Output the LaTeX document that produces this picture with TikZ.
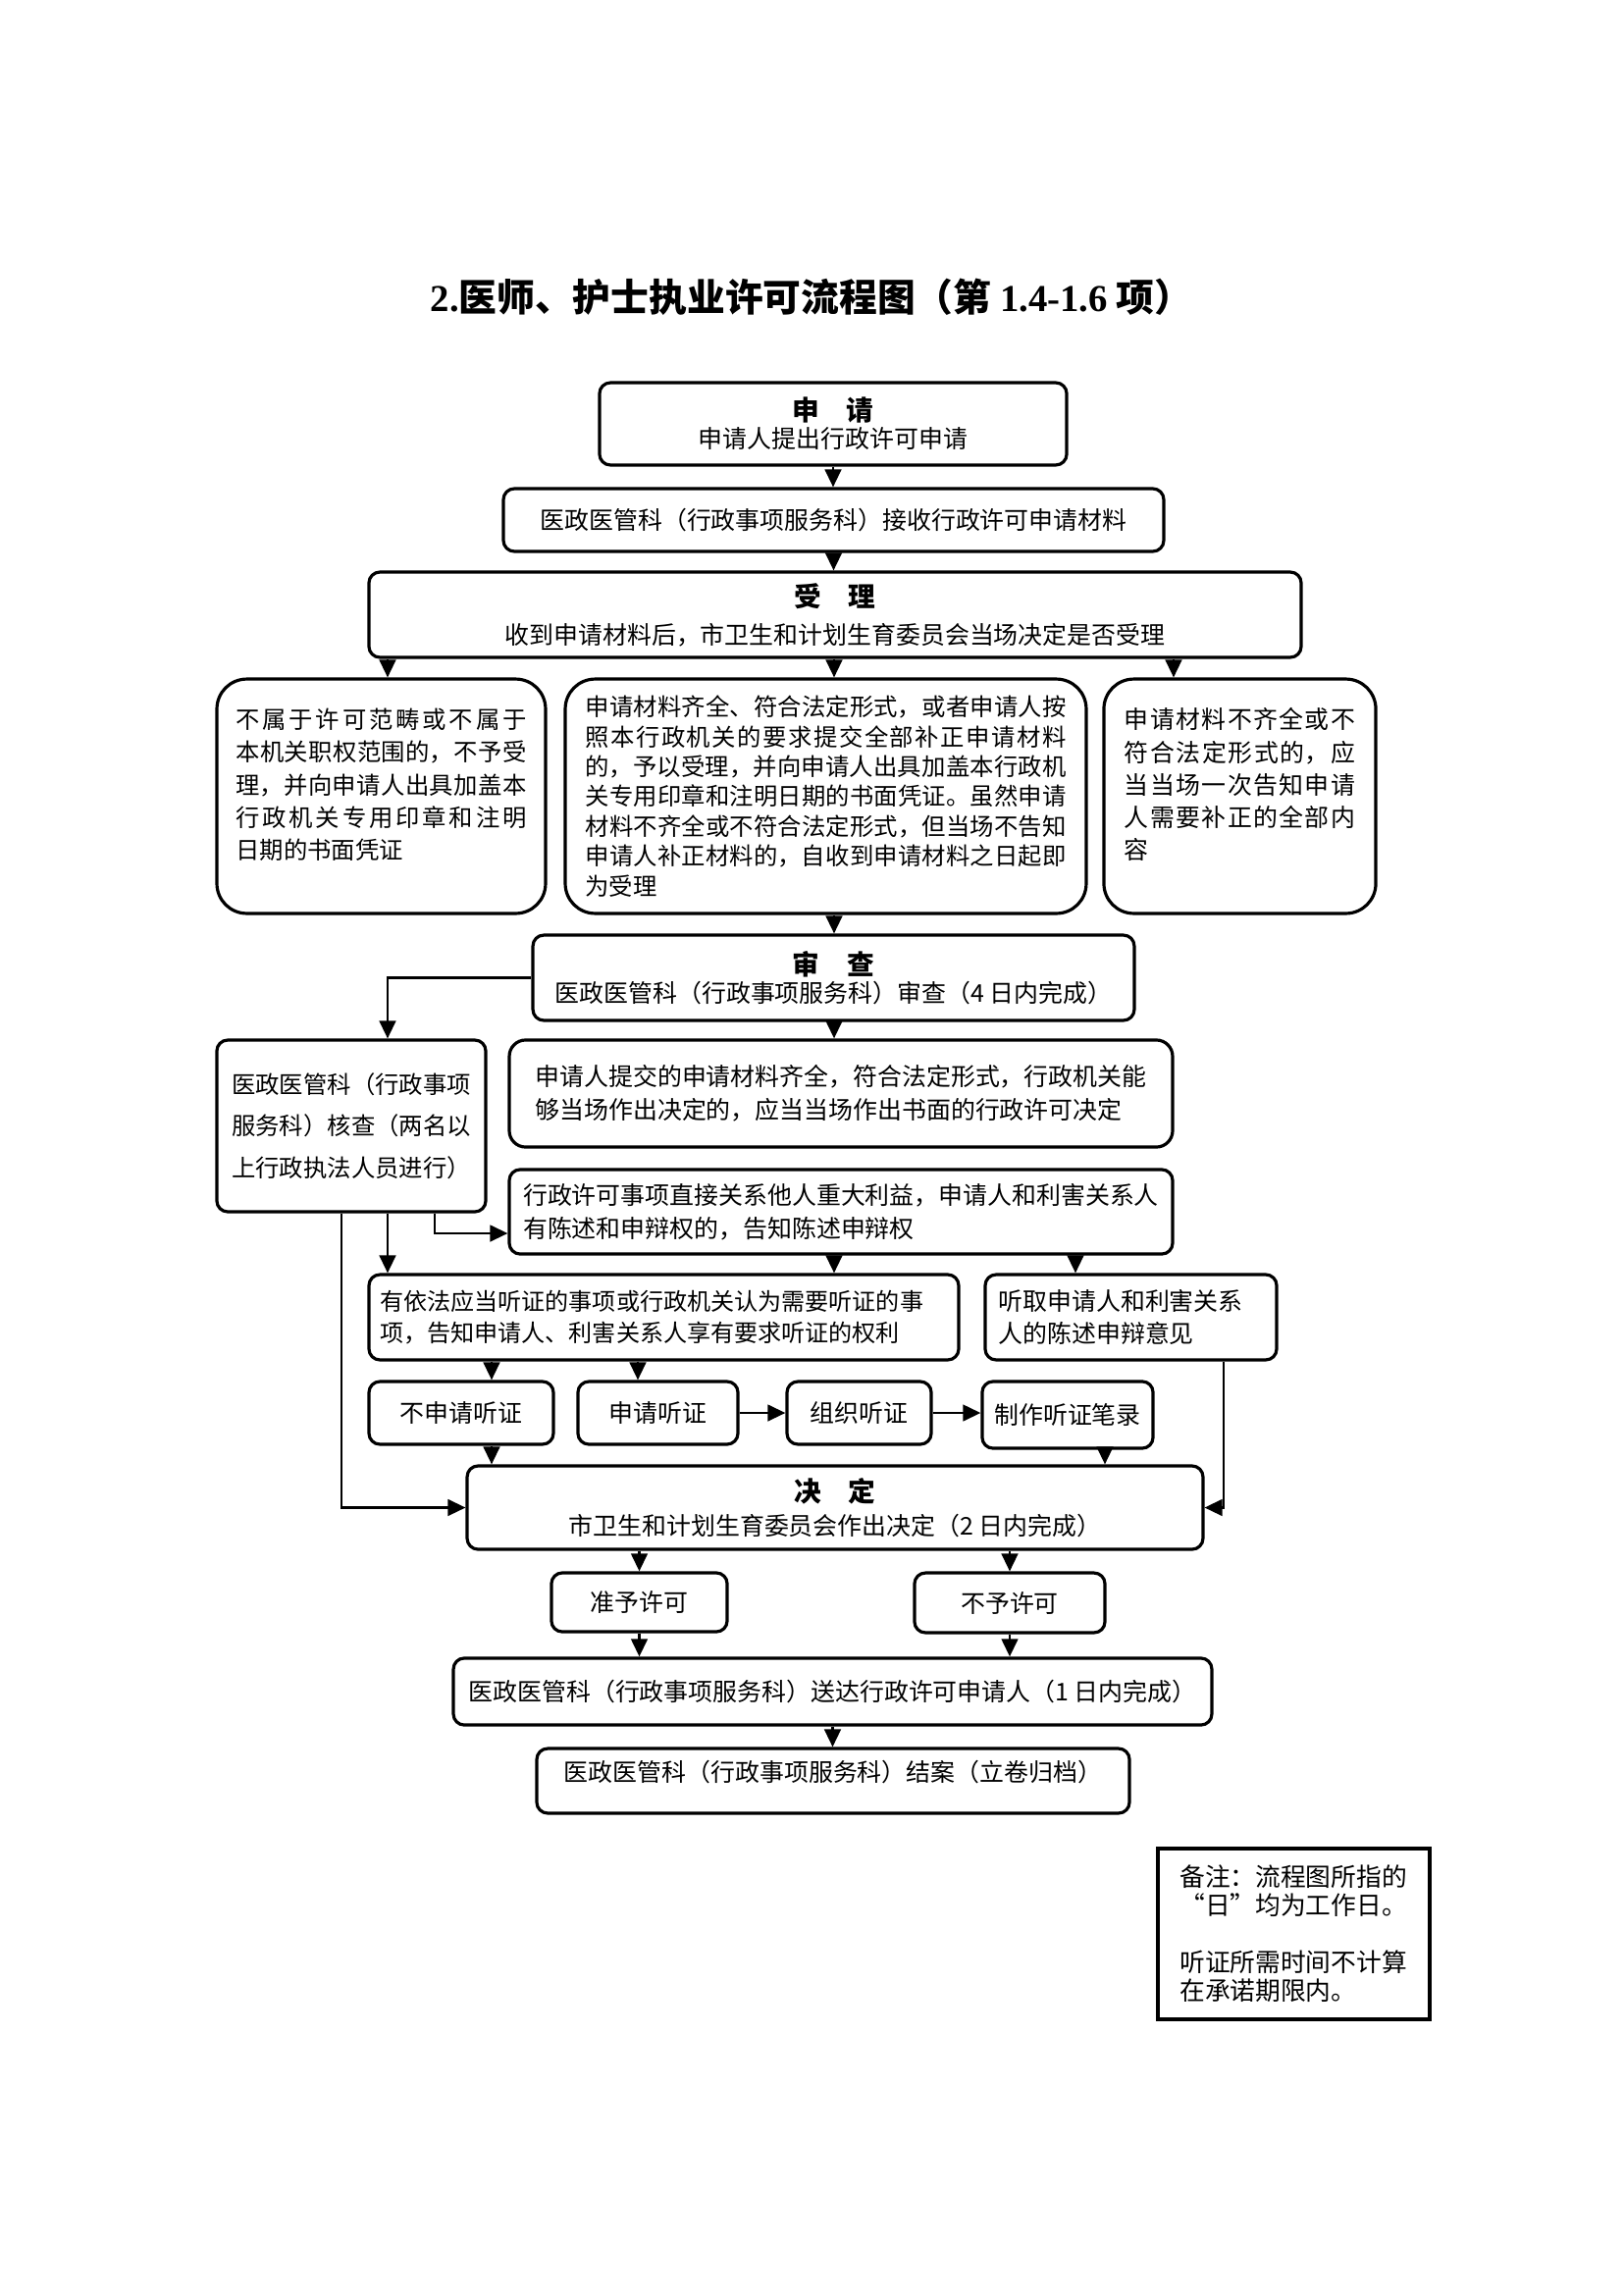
\documentclass[tikz,border=0pt]{standalone}
\usepackage{fontspec}
\newfontfamily\cjk{Noto Sans CJK SC}
\newfontfamily\titleserif{Liberation Serif}
\usetikzlibrary{arrows.meta}
\XeTeXlinebreaklocale "zh"
\XeTeXlinebreakskip=0pt plus 2pt
\newcommand\flowsize[2]{\cjk\fontsize{#1}{#2}\selectfont}
\newcommand\headtxt{\bfseries\fontsize{10pt}{10pt}\selectfont}

\begin{document}
\begin{tikzpicture}[x=0.36125pt, y=-0.36125pt,
  flow/.style={draw, line width=1.15pt, rounded corners=4pt, inner sep=0pt, align=center, font=\flowsize{9pt}{12pt}},
  big/.style={flow, rounded corners=11pt, align=justify},
  arr/.style={line width=0.9pt, -{Triangle[length=6.5pt,width=6pt]}}]

\useasboundingbox (0,0) rectangle (1654,2339);

\node[font=\flowsize{14pt}{16pt}\bfseries] (title) at (827,303)
  {{\titleserif 2.}医师、护士执业许可流程图（第 {\titleserif 1.4-1.6} 项）};

\node[flow, minimum width=172pt, minimum height=30.3pt, font=\flowsize{9pt}{10.1pt}] (shenqing) at (849,432)
  {{\headtxt 申\hspace{1em}请}\\申请人提出行政许可申请};
\node[flow, minimum width=243.1pt, minimum height=23.1pt] (jieshou) at (849.5,530)
  {医政医管科（行政事项服务科）接收行政许可申请材料};
\node[flow, minimum width=343.2pt, minimum height=31.4pt, font=\flowsize{9pt}{13.7pt}] (shouli) at (851,626.5)
  {{\headtxt 受\hspace{1em}理}\\收到申请材料后，市卫生和计划生育委员会当场决定是否受理};

\node[big, minimum width=121pt, minimum height=86.3pt, text width=107pt, text depth=57.2pt, font=\flowsize{8.8pt}{12pt}] (buyu) at (388.5,811.5)
  {不属于许可范畴或不属于\linebreak 本机关职权范围的，不予受\linebreak 理，并向申请人出具加盖本\linebreak 行政机关专用印章和注明\linebreak 日期的书面凭证};
\node[big, minimum width=191.8pt, minimum height=86.3pt, text width=177pt, font=\flowsize{8.8pt}{11pt}] (yushou) at (841.5,811.5)
  {申请材料齐全、符合法定形式，或者申请人按\linebreak 照本行政机关的要求提交全部补正申请材料\linebreak 的，予以受理，并向申请人出具加盖本行政机\linebreak 关专用印章和注明日期的书面凭证。虽然申请\linebreak 材料不齐全或不符合法定形式，但当场不告知\linebreak 申请人补正材料的，自收到申请材料之日起即\linebreak 为受理};
\node[big, minimum width=100.1pt, minimum height=86.3pt, text width=85pt, text depth=57.2pt] (buzheng) at (1263.5,811.5)
  {申请材料不齐全或不\linebreak 符合法定形式的，应\linebreak 当当场一次告知申请\linebreak 人需要补正的全部内\linebreak 容};

\node[flow, minimum width=221.4pt, minimum height=31.4pt, font=\flowsize{9pt}{10.1pt}] (shencha) at (849.5,996.5)
  {{\headtxt 审\hspace{1em}查}\\医政医管科（行政事项服务科）审查（4 日内完成）};
\node[flow, minimum width=99pt, minimum height=63.2pt, font=\flowsize{8.8pt}{15.4pt}] (hecha) at (358,1147.5)
  {医政医管科（行政事项\\服务科）核查（两名以\\上行政执法人员进行）};
\node[flow, rounded corners=6pt, minimum width=244.2pt, minimum height=39.4pt, text width=225pt, align=left, font=\flowsize{9pt}{12.3pt}] (dangchang) at (857,1114.5)
  {申请人提交的申请材料齐全，符合法定形式，行政机关能\\够当场作出决定的，应当当场作出书面的行政许可决定};
\node[flow, minimum width=244.2pt, minimum height=31.1pt, text width=234pt, align=left, font=\flowsize{9pt}{12.3pt}] (chenshu) at (857,1235)
  {行政许可事项直接关系他人重大利益，申请人和利害关系人\\有陈述和申辩权的，告知陈述申辩权};
\node[flow, minimum width=217.1pt, minimum height=31.4pt, text width=209pt, align=left, font=\flowsize{8.7pt}{11.8pt}] (tingzheng) at (676.5,1342.5)
  {有依法应当听证的事项或行政机关认为需要听证的事\\项，告知申请人、利害关系人享有要求听证的权利};
\node[flow, minimum width=107.3pt, minimum height=31.4pt, text width=97.5pt, align=left, font=\flowsize{9pt}{11.8pt}] (tingqu) at (1152.5,1342.5)
  {听取申请人和利害关系\\人的陈述申辩意见};

\node[flow, minimum width=67.9pt, minimum height=23.1pt] (bushen) at (470,1440) {不申请听证};
\node[flow, minimum width=58.9pt, minimum height=23.1pt] (shenqingtz) at (670.5,1440) {申请听证};
\node[flow, minimum width=53.1pt, minimum height=23.1pt] (zuzhi) at (875.5,1440) {组织听证};
\node[flow, minimum width=62.9pt, minimum height=24.6pt] (bilu) at (1088,1442) {制作听证笔录};

\node[flow, minimum width=270.9pt, minimum height=30.7pt, font=\flowsize{9pt}{12.3pt}] (jueding) at (851,1536.5)
  {{\headtxt 决\hspace{1em}定}\\市卫生和计划生育委员会作出决定（2 日内完成）};
\node[flow, minimum width=64.7pt, minimum height=21.7pt] (zhunyu) at (651.5,1633) {准予许可};
\node[flow, minimum width=70.1pt, minimum height=22pt] (buyuxk) at (1029,1633.5) {不予许可};
\node[flow, minimum width=279.2pt, minimum height=24.6pt] (songda) at (848.5,1724)
  {医政医管科（行政事项服务科）送达行政许可申请人（1 日内完成）};
\node[flow, minimum width=218.2pt, text height=12.1pt, text depth=11.7pt] (jiean) at (849,1815)
  {医政医管科（行政事项服务科）结案（立卷归档）};

\node[draw, line width=1.3pt, inner sep=0pt, minimum width=100.1pt, minimum height=62.9pt, text width=84pt, align=left, font=\flowsize{9.3pt}{10.5pt}] (note) at (1318.5,1971)
  {备注：流程图所指的\\“日”均为工作日。\\[10.5pt]听证所需时间不计算\\在承诺期限内。};

\coordinate (xa) at (348,0);
\coordinate (xb) at (395,0);
\coordinate (hc) at (443,1257);
\coordinate (xm) at (850,0);
\coordinate (xd) at (1196,0);
\coordinate (xe) at (1096,0);
\coordinate (xf) at (1247,0);
\coordinate (xg) at (501,0);
\coordinate (xh) at (650,0);
\coordinate (xi) at (1126,0);

\draw[arr] (shenqing.south) -- (shenqing.south |- jieshou.north);
\draw[arr] (jieshou.south) -- (jieshou.south |- shouli.north);
\draw[arr] (xb |- shouli.south) -- (xb |- buyu.north);
\draw[arr] (xm |- shouli.south) -- (xm |- yushou.north);
\draw[arr] (xd |- shouli.south) -- (xd |- buzheng.north);
\draw[arr] (xm |- yushou.south) -- (xm |- shencha.north);
\draw[arr] (shencha.west) -| (xb |- hecha.north);
\draw[arr] (xm |- shencha.south) -- (xm |- dangchang.north);
\draw[arr] (xa |- hecha.south) |- (jueding.west);
\draw[arr] (xb |- hecha.south) -- (xb |- tingzheng.north);
\draw[arr] (hecha.south -| hc) |- (hc -| chenshu.west);
\draw[arr] (xm |- chenshu.south) -- (xm |- tingzheng.north);
\draw[arr] (xe |- chenshu.south) -- (xe |- tingqu.north);
\draw[arr] (xf |- tingqu.south) |- (jueding.east);
\draw[arr] (xg |- tingzheng.south) -- (xg |- bushen.north);
\draw[arr] (xh |- tingzheng.south) -- (xh |- shenqingtz.north);
\draw[arr] (shenqingtz.east) -- (zuzhi.west);
\draw[arr] (zuzhi.east) -- (zuzhi.east -| bilu.west);
\draw[arr] (xg |- bushen.south) -- (xg |- jueding.north);
\draw[arr] (xi |- bilu.south) -- (xi |- jueding.north);
\draw[arr] (jueding.south -| zhunyu.north) -- (zhunyu.north);
\draw[arr] (jueding.south -| buyuxk.north) -- (buyuxk.north);
\draw[arr] (zhunyu.south) -- (zhunyu.south |- songda.north);
\draw[arr] (buyuxk.south) -- (buyuxk.south |- songda.north);
\draw[arr] (songda.south) -- (songda.south |- jiean.north);
\end{tikzpicture}
\end{document}
